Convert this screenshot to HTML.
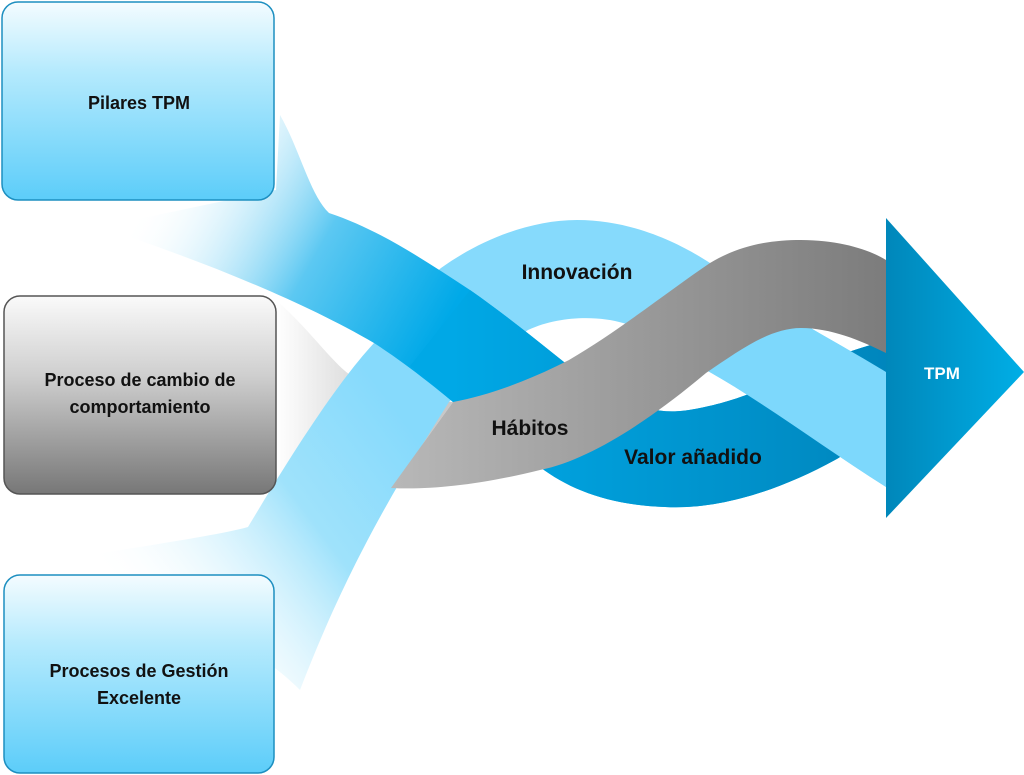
<!DOCTYPE html>
<html><head><meta charset="utf-8"><style>
html,body{margin:0;padding:0;background:#fff;width:1024px;height:775px;overflow:hidden}
svg{display:block}
</style></head><body>
<svg width="1024" height="775" viewBox="0 0 1024 775" xmlns="http://www.w3.org/2000/svg">
<defs>
<linearGradient id="bx" x1="0" y1="0" x2="0" y2="1"><stop offset="0" stop-color="#f4fcff"/><stop offset="0.35" stop-color="#b5eafd"/><stop offset="1" stop-color="#5ccdf9"/></linearGradient>
<linearGradient id="gx" x1="0" y1="0" x2="0" y2="1"><stop offset="0" stop-color="#fafafa"/><stop offset="0.4" stop-color="#cfcfcf"/><stop offset="1" stop-color="#777"/></linearGradient>
<linearGradient id="dk" gradientUnits="userSpaceOnUse" x1="160" y1="170" x2="440" y2="330"><stop offset="0" stop-color="#fff" stop-opacity="0"/><stop offset="0.55" stop-color="#5cc8f2"/><stop offset="1" stop-color="#00a9e8"/></linearGradient>
<linearGradient id="dk2" gradientUnits="userSpaceOnUse" x1="450" y1="0" x2="886" y2="0"><stop offset="0" stop-color="#00a8e6"/><stop offset="1" stop-color="#0086bd"/></linearGradient>
<linearGradient id="lb" gradientUnits="userSpaceOnUse" x1="150" y1="640" x2="420" y2="440"><stop offset="0" stop-color="#fff" stop-opacity="0"/><stop offset="0.6" stop-color="#9fe2fb"/><stop offset="1" stop-color="#86dafc"/></linearGradient>
<linearGradient id="gf" gradientUnits="userSpaceOnUse" x1="276" y1="0" x2="400" y2="0"><stop offset="0" stop-color="#fff"/><stop offset="1" stop-color="#c8c8c8"/></linearGradient>
<linearGradient id="gr" gradientUnits="userSpaceOnUse" x1="391" y1="0" x2="886" y2="0"><stop offset="0" stop-color="#b8b8b8"/><stop offset="1" stop-color="#7c7c7c"/></linearGradient>
<linearGradient id="ar" x1="0" y1="0" x2="1" y2="0"><stop offset="0" stop-color="#0087ba"/><stop offset="1" stop-color="#00aee6"/></linearGradient>
<clipPath id="rc"><rect x="695" y="300" width="200" height="250"/></clipPath>
</defs>

<!-- pale gray fade behind -->
<path d="M276,300 C310,330 330,360 350,375 C380,390 420,400 453,402 L391,488 C340,486 300,484 276,484 Z" fill="url(#gf)"/>

<!-- light blue ribbon -->
<path d="M60,560 C150,545 220,535 248,527 C300,440 340,380 374,343 C400,310 420,285 441,268 C480,240 530,220 577,220 C640,220 690,250 710,263 C750,290 790,315 814,330 C840,345 870,362 886,372 L886,487 C820,445 760,400 706,370 C670,345 650,330 623,323 C600,316 560,315 528,330 C500,350 470,380 449,402 C400,480 350,560 300,690 C250,640 150,590 60,560 Z" fill="url(#lb)"/>

<!-- dark blue ribbon -->
<path d="M280,115 C300,150 310,195 329,213 C380,230 424,260 470,290 C520,325 560,360 600,390 C620,402 635,406 648,408 C665,413 681,412 700,408 C720,404 747,397 780,380 C820,360 855,350 886,340 L886,420 C860,440 850,452 835,460 C780,490 720,510 665,507 C610,505 570,490 540,467 C500,440 480,420 453,402 C420,375 400,360 374,343 C300,300 200,260 100,227 L276,190 Z" fill="url(#dk)"/>
<path d="M470,290 C520,325 560,360 600,390 C620,402 635,406 648,408 C665,413 681,412 700,408 C720,404 747,397 780,380 C820,360 855,350 886,340 L886,420 C860,440 850,452 835,460 C780,490 720,510 665,507 C610,505 570,490 540,467 C500,440 480,420 453,402 C430,383 420,372 410,366 Z" fill="url(#dk2)"/>

<!-- light blue over dark on right -->
<g clip-path="url(#rc)">
<path d="M700,259 C750,290 790,315 814,330 C840,345 870,362 886,372 L886,487 C820,445 760,400 706,370 C680,352 660,340 640,330 Z" fill="#7dd8fc"/>
</g>

<!-- gray ribbon -->
<path d="M453,402 C490,395 530,380 569,360 C620,330 670,290 710,263 C740,245 770,240 801,240 C840,240 870,250 886,260 L886,353 C860,340 830,328 801,328 C770,328 740,350 706,373 C650,420 590,460 540,470 C480,485 430,490 391,488 Z" fill="url(#gr)"/>

<!-- arrow -->
<polygon points="886,218 1024,372 886,518" fill="url(#ar)"/>
<text x="942" y="379" font-family="Liberation Sans, sans-serif" font-weight="bold" font-size="17" fill="#fff" text-anchor="middle">TPM</text>

<!-- boxes -->
<rect x="2" y="2" width="272" height="198" rx="16" fill="url(#bx)" stroke="#1d8fc0" stroke-width="1.5"/>
<rect x="4" y="296" width="272" height="198" rx="16" fill="url(#gx)" stroke="#555" stroke-width="1.5"/>
<rect x="4" y="575" width="270" height="198" rx="16" fill="url(#bx)" stroke="#1d8fc0" stroke-width="1.5"/>

<g font-family="Liberation Sans, sans-serif" font-weight="bold" font-size="18" fill="#111" text-anchor="middle">
<text x="139" y="109">Pilares TPM</text>
<text x="140" y="386">Proceso de cambio de</text>
<text x="140" y="413">comportamiento</text>
<text x="139" y="677">Procesos de Gestión</text>
<text x="139" y="704">Excelente</text>
</g>
<g font-family="Liberation Sans, sans-serif" font-weight="bold" font-size="21" fill="#111" text-anchor="middle">
<text x="577" y="279">Innovación</text>
<text x="530" y="435">Hábitos</text>
<text x="693" y="464">Valor añadido</text>
</g>
</svg>
</body></html>
